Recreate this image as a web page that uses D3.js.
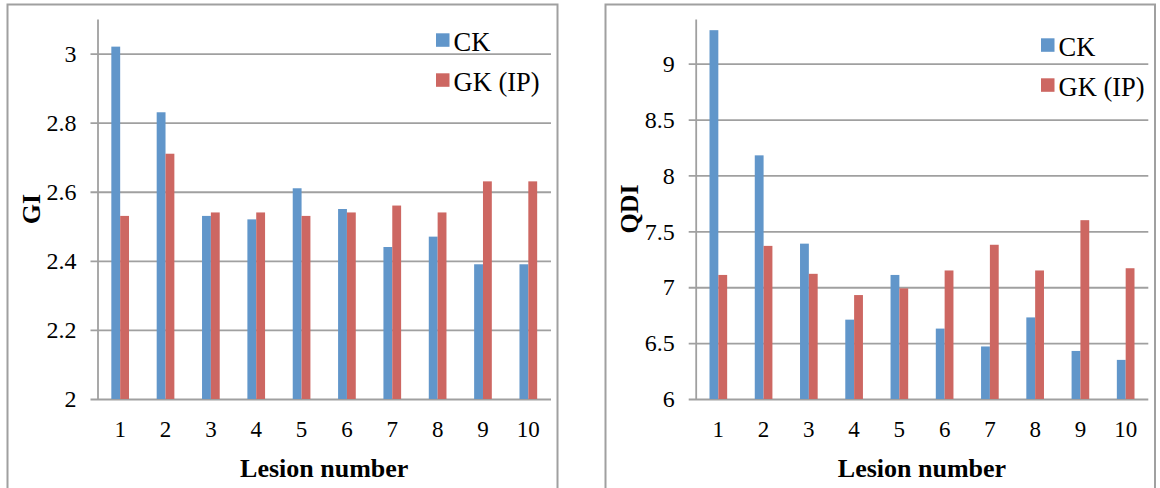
<!DOCTYPE html>
<html lang="en">
  <head>
    <title>GI and QDI by lesion number</title>
    <script src="https://d3js.org/d3.v7.min.js"></script>
    <style>
      body {
        margin: 0;
        background: #fff;
      }
      svg text {
        font-family: "Liberation Serif", "Times New Roman", Times, "DejaVu Serif", serif;
        fill: #000;
      }
    </style>
  </head>
  <body>
    <div id="content"></div>
    <script>
      const lesions = ["1", "2", "3", "4", "5", "6", "7", "8", "9", "10"];
      const seriesNames = ["CK", "GK (IP)"];
      const seriesColors = ["#6196ca", "#cd6762"];

      const giCK = [3.02, 2.83, 2.53, 2.52, 2.61, 2.55, 2.44, 2.47, 2.39, 2.39];
      const giGK = [2.53, 2.71, 2.54, 2.54, 2.53, 2.54, 2.56, 2.54, 2.63, 2.63];
      const giTicks = [2, 2.2, 2.4, 2.6, 2.8, 3];

      const qdiCK = [9.3, 8.18, 7.39, 6.71, 7.11, 6.63, 6.47, 6.73, 6.43, 6.35];
      const qdiGK = [7.11, 7.37, 7.12, 6.93, 6.99, 7.15, 7.38, 7.15, 7.6, 7.17];
      const qdiTicks = [6, 6.5, 7, 7.5, 8, 8.5, 9];

      const serif = '"Liberation Serif", "Times New Roman", Times, serif';

      const svg = d3
        .select("#content")
        .append("svg")
        .attr("width", 1160)
        .attr("height", 488)
        .style("font-family", serif);

      const gridColor = "#a0a0a0";

      const chart = (opts) => {
        const top = 19;
        const bottom = 399;

        // outer frame, bottom edge runs off the picture
        svg
          .append("rect")
          .attr("x", opts.frameLeft)
          .attr("y", 4.5)
          .attr("width", opts.frameRight - opts.frameLeft)
          .attr("height", 500)
          .attr("fill", "none")
          .attr("stroke", gridColor)
          .attr("stroke-width", 2);

        const x = d3
          .scaleBand()
          .domain(lesions)
          .range([opts.left, opts.right])
          .paddingInner(0.61)
          .paddingOuter(0.305);

        const xSub = d3
          .scaleBand()
          .domain(seriesNames)
          .range([0, x.bandwidth()]);

        const y = d3.scaleLinear().domain(opts.domain).range([bottom, top]);

        const yAxis = svg
          .append("g")
          .attr("transform", `translate(${opts.left},0)`)
          .call(
            d3
              .axisLeft(y)
              .tickValues(opts.ticks)
              .tickFormat((d) => String(d))
              .tickSizeInner(-(opts.right - opts.left))
              .tickSizeOuter(0)
              .tickPadding(21)
          )
          .attr("font-family", null);
        yAxis.select(".domain").attr("stroke", gridColor).attr("stroke-width", 1.8);
        yAxis
          .selectAll(".tick line")
          .attr("x1", -7)
          .attr("stroke", gridColor)
          .attr("stroke-width", 1.8);
        yAxis
          .selectAll(".tick text")
          .style("font-family", serif)
          .style("font-size", "24px");

        const rows = lesions.map((l, i) => ({
          lesion: l,
          values: [opts.ck[i], opts.gk[i]],
        }));

        svg
          .append("g")
          .selectAll("g")
          .data(rows)
          .join("g")
          .attr("transform", (d) => `translate(${x(d.lesion)},0)`)
          .selectAll("rect")
          .data((d) => d.values.map((v, k) => ({ name: seriesNames[k], value: v })))
          .join("rect")
          .attr("x", (d) => xSub(d.name))
          .attr("y", (d) => y(d.value))
          .attr("width", xSub.bandwidth())
          .attr("height", (d) => bottom - y(d.value))
          .attr("fill", (d) => seriesColors[seriesNames.indexOf(d.name)]);

        const xAxis = svg
          .append("g")
          .attr("transform", `translate(0,${bottom})`)
          .call(d3.axisBottom(x).tickSize(0))
          .attr("font-family", null);
        xAxis.select(".domain").remove();
        xAxis
          .selectAll(".tick text")
          .attr("y", 38)
          .attr("dy", 0)
          .style("font-family", serif)
          .style("font-size", "23px");

        svg
          .append("text")
          .attr("text-anchor", "middle")
          .attr("x", (opts.left + opts.right) / 2)
          .attr("y", 477)
          .style("font-size", "26px")
          .style("font-weight", "bold")
          .text("Lesion number");

        svg
          .append("text")
          .attr("text-anchor", "middle")
          .attr("transform", `translate(${opts.left - 57.5},${(top + bottom) / 2}) rotate(-90)`)
          .style("font-size", "26px")
          .style("font-weight", "bold")
          .text(opts.title);

        const legend = svg
          .append("g")
          .selectAll("g")
          .data(seriesNames)
          .join("g")
          .attr("transform", (d, i) => `translate(${opts.legendX},${opts.legendY + i * 40})`);
        legend
          .append("rect")
          .attr("width", 13.5)
          .attr("height", 13.5)
          .attr("fill", (d, i) => seriesColors[i]);
        legend
          .append("text")
          .attr("x", 17.5)
          .attr("y", 17.5)
          .style("font-size", "26.5px")
          .text((d) => d);
      };

      chart({
        frameLeft: 7.5,
        frameRight: 557.5,
        left: 97.5,
        right: 551,
        domain: [2, 3.1],
        ticks: giTicks,
        ck: giCK,
        gk: giGK,
        title: "GI",
        legendX: 436,
        legendY: 33.3,
      });

      chart({
        frameLeft: 605.5,
        frameRight: 1155,
        left: 695.7,
        right: 1148.3,
        domain: [6, 9.4],
        ticks: qdiTicks,
        ck: qdiCK,
        gk: qdiGK,
        title: "QDI",
        legendX: 1041,
        legendY: 38.3,
      });
    </script>
  </body>
</html>
